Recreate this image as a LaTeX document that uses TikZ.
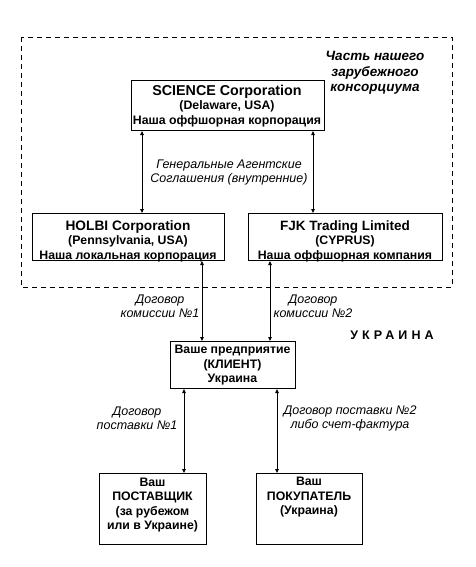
\documentclass[tikz,border=0pt]{standalone}
\usepackage{fontspec}
\setmainfont{Liberation Sans}
\usetikzlibrary{arrows.meta}
\begin{document}
\begin{tikzpicture}[x=1pt,y=-1pt,
  box/.style={draw,line width=1pt,minimum width=#1,inner sep=0pt,anchor=north west},
  boxtxt/.style={align=center,font=\bfseries\fontsize{12.3}{14.5}\selectfont,inner sep=0pt},
  lbl/.style={align=center,font=\itshape\fontsize{12.5}{14}\selectfont,inner sep=0pt},
  dbl/.style={line width=0.8pt,{Triangle[length=4pt,width=3.5pt]}-{Triangle[length=4pt,width=3.5pt]}},
  dash box/.style={draw,line width=0.8pt,dash pattern=on 5pt off 4pt}]
\useasboundingbox (0,0) rectangle (475,567);
\fill[white] (0,0) rectangle (475,567);
% consortium frame
\draw[dash box] (21,37) rectangle (452,287);
% boxes
\node[box=193pt,minimum height=50pt] (sci) at (131,80) {};
\node[box=192pt,minimum height=47pt] (holbi) at (32,213) {};
\node[box=194pt,minimum height=47pt] (fjk) at (248,213) {};
\node[box=125pt,minimum height=47pt] (cli) at (170,341) {};
\node[box=107pt,minimum height=71pt] (sup) at (99,473) {};
\node[box=106pt,minimum height=71pt] (buy) at (256,473) {};
% box texts
\node[boxtxt] (scit) at (227,106) {{\fontsize{14.3}{14.5}\selectfont SCIENCE Corporation}\\(Delaware, USA)\\Наша оффшорная корпорация};
\node[boxtxt] (holbit) at (128,241) {{\fontsize{13.7}{14.5}\selectfont HOLBI Corporation}\\(Pennsylvania, USA)\\Наша локальная корпорация};
\node[boxtxt] (fjkt) at (345,241) {{\fontsize{13.5}{14.5}\selectfont FJK Trading Limited}\\(CYPRUS)\\Наша оффшорная компания};
\node[boxtxt] (clit) at (232.5,365.5) {Ваше предприятие\\(КЛИЕНТ)\\Украина};
\node[boxtxt] (supt) at (152.5,505) {Ваш\\ПОСТАВЩИК\\(за рубежом\\или в Украине)};
\node[boxtxt] (buyt) at (309,497.5) {Ваш\\ПОКУПАТЕЛЬ\\(Украина)};
% other texts
\node[align=center,inner sep=0pt,font=\bfseries\itshape\fontsize{13.5}{15.5}\selectfont] (cons) at (375,73) {Часть нашего\\зарубежного\\консорциума};
\node[inner sep=0pt,font=\bfseries\fontsize{12.5}{14}\selectfont\addfontfeatures{LetterSpace=33}] (ukr) at (392,335) {УКРАИНА};
% connectors
\draw[dbl] ([xshift=11pt]sci.south west) -- ([xshift=110pt]holbi.north west);
\draw[dbl] ([xshift=182pt]sci.south west) -- ([xshift=65pt]fjk.north west);
\draw[dbl] ([xshift=170pt]holbi.south west) -- ([xshift=32pt]cli.north west);
\draw[dbl] ([xshift=22pt]fjk.south west) -- ([xshift=100pt]cli.north west);
\draw[dbl] ([xshift=14pt]cli.south west) -- ([xshift=85pt]sup.north west);
\draw[dbl] ([xshift=107pt]cli.south west) -- ([xshift=21pt]buy.north west);
% connector labels
\node[lbl] (l1) at (229,172) {Генеральные Агентские\\Соглашения (внутренние)};
\node[lbl] (l2) at (160,306.5) {Договор\\комиссии №1};
\node[lbl] (l3) at (313,306.5) {Договор\\комиссии №2};
\node[lbl] (l4) at (137,418) {Договор\\поставки №1};
\node[lbl] (l5) at (350,418) {Договор поставки №2\\либо счет-фактура};
\end{tikzpicture}
\end{document}
